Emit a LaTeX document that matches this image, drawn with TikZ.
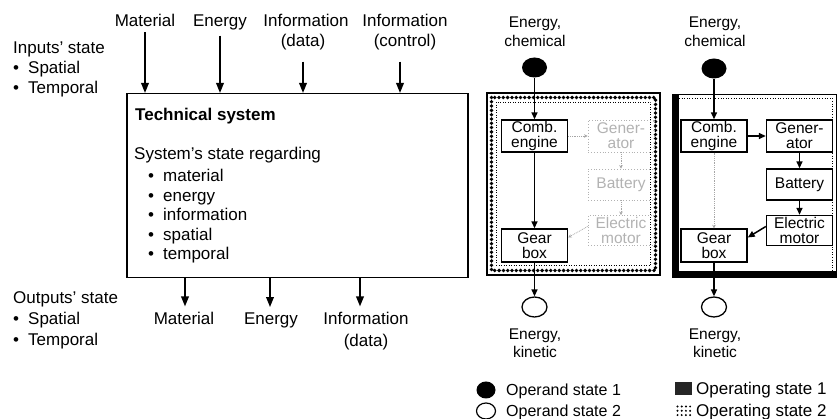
\documentclass[tikz,border=0pt]{standalone}
\usepackage{fontspec}
\setmainfont{Liberation Sans}
\usetikzlibrary{arrows.meta,shapes.geometric}
\newcommand{\ltf}{\fontsize{17}{20}\selectfont}
\newcommand{\rtf}{\fontsize{15.5}{18.5}\selectfont}
\newcommand{\bxf}{\fontsize{15.5}{15}\selectfont}
\newcommand{\lgf}{\fontsize{16}{19}\selectfont}
\newcommand{\lgg}{\fontsize{17}{19}\selectfont}
\newcommand{\bul}{\makebox[15pt][l]{\textbullet}}
\begin{document}
\begin{tikzpicture}[x=1pt,y=-1pt,
  lt/.style={font=\ltf, inner sep=0pt},
  rt/.style={font=\rtf, inner sep=0pt},
  lg/.style={font=\lgf, inner sep=0pt, anchor=base west},
  arrL/.style={line width=1.8pt, -{Triangle[width=7.5pt,length=10pt]}},
  arrR/.style={line width=1.5pt, -{Triangle[width=6pt,length=7pt]}},
  arrF/.style={line width=.8pt, densely dotted, black!35, -{Stealth[width=3.5pt,length=3.5pt]}},
  sb/.style={draw, line width=1.4pt, minimum width=66pt, minimum height=32pt, inner sep=0pt, align=center, font=\bxf, fill=white},
  fb/.style={draw=black!30, dotted, line width=.9pt, minimum width=66pt, minimum height=31pt, inner sep=0pt, align=center, font=\bxf, text=black!30},
  opd/.style={ellipse, line width=1.3pt, minimum width=25pt, minimum height=20pt, inner sep=0pt}
]
\useasboundingbox (0,0) rectangle (839,419);

% ---------------- left part ----------------
\node[draw, line width=1.5pt, anchor=north west, minimum width=341pt, minimum height=184pt, inner sep=0pt] (ts) at (126,93) {};

\node[lt, anchor=base] (inMat) at (145,27) {Material};
\node[lt, anchor=base] (inEn) at (220,27) {Energy};
\node[lt, anchor=base] (inInfo) at (306,27) {Information};
\node[lt, anchor=base] (inData) at (303,47) {(data)};
\node[lt, anchor=base] (inInfoB) at (405,27) {Information};
\node[lt, anchor=base] (inCtrl) at (405,47) {(control)};

\coordinate (cMat) at ([yshift=-5pt]inMat.south);
\coordinate (cEn) at ([yshift=-5pt]inEn.south);
\coordinate (cData) at ([yshift=-11pt]inData.south);
\coordinate (cCtrl) at ([xshift=-5pt,yshift=-11pt]inCtrl.south);
\draw[arrL] (cMat) -- (cMat |- ts.north);
\draw[arrL] (cEn) -- (cEn |- ts.north);
\draw[arrL] (cData) -- (cData |- ts.north);
\draw[arrL] (cCtrl) -- (cCtrl |- ts.north);

\node[lt, anchor=base west] (inSt) at (13,54) {Inputs' state};
\node[lt, anchor=base west] (inSp) at (13,74) {\bul Spatial};
\node[lt, anchor=base west] (inTe) at (13,94) {\bul Temporal};

\node[lt, anchor=base west] (tsT) at (135,121) {\bfseries Technical system};
\node[lt, anchor=base west] (tsS) at (134,160) {System's state regarding};
\node[lt, anchor=base west] (tsA) at (148,182) {\bul material};
\node[lt, anchor=base west] (tsB) at (148,201.5) {\bul energy};
\node[lt, anchor=base west] (tsC) at (148,221) {\bul information};
\node[lt, anchor=base west] (tsD) at (148,240.5) {\bul spatial};
\node[lt, anchor=base west] (tsE) at (148,260) {\bul temporal};

\node[lt, anchor=base west] (outSt) at (13,304) {Outputs' state};
\node[lt, anchor=base west] (outSp) at (13,325) {\bul Spatial};
\node[lt, anchor=base west] (outTe) at (13,346) {\bul Temporal};

\node[lt, anchor=base] (outMat) at (184,325) {Material};
\node[lt, anchor=base] (outEn) at (271,325) {Energy};
\node[lt, anchor=base] (outInfo) at (366,325) {Information};
\node[lt, anchor=base] (outData) at (366,347) {(data)};

\coordinate (oMat) at ([xshift=1pt,yshift=6pt]outMat.north);
\coordinate (oEn) at ([xshift=-1pt,yshift=6pt]outEn.north);
\coordinate (oInfo) at ([xshift=-6pt,yshift=6pt]outInfo.north);
\draw[arrL] (oMat |- ts.south) -- (oMat);
\draw[arrL] (oEn |- ts.south) -- (oEn);
\draw[arrL] (oInfo |- ts.south) -- (oInfo);

% ---------------- right part: frames ----------------
% left panel (operating state 2)
\draw[line width=2pt] (487,93) rectangle (660,275);
\draw[line width=3.8pt, line cap=round, dash pattern=on 0pt off 4.3pt] (491.5,97.5) rectangle (655.5,270.5);
\draw[line width=.5pt, dotted] (496.5,102.5) rectangle (650.5,265.5);
% right panel (operating state 1)
\draw[line width=1pt] (672,95) rectangle (836,278);
\fill (672,95) rectangle (678.5,278);
\fill (672,271) rectangle (836,278);
\draw[dotted, line width=.6pt] (679,98.5) -- (832.5,98.5) -- (832.5,271);

% ---------------- left panel content ----------------
\node[rt, anchor=base] (ecA1) at (535,28) {Energy,};
\node[rt, anchor=base] (ecB1) at (535,46.5) {chemical};
\node[opd, fill=black] (c1) at (534.5,67.5) {};
\node[sb] (ce1) at (534.5,136) {Comb.\\engine};
\node[sb, minimum height=33pt] (gb1) at (534.5,245.5) {Gear\\box};
\node[fb, minimum height=32pt] (gen1) at (621,136) {Gener-\\ator};
\node[fb] (bat1) at (621,184.5) {Battery};
\node[fb, minimum height=30pt] (em1) at (621,230.5) {Electric\\motor};
\node[opd, draw, fill=white] (k1) at (534.5,307) {};
\node[rt, anchor=base] (ekA1) at (535,340) {Energy,};
\node[rt, anchor=base] (ekB1) at (535,358) {kinetic};

\draw[arrR] (c1) -- (ce1);
\draw[arrR] (ce1) -- (gb1);
\draw[arrR] (gb1) -- (k1);
\draw[arrF] (ce1) -- (gen1);
\draw[arrF] (gen1) -- (bat1);
\draw[arrF] (bat1) -- (em1);
\draw[arrF] ([yshift=4pt]em1.west) -- ([yshift=8pt]gb1.east);

% ---------------- right panel content ----------------
\node[rt, anchor=base] (ecA2) at (715,28) {Energy,};
\node[rt, anchor=base] (ecB2) at (715,46.5) {chemical};
\node[opd, fill=black] (c2) at (714,68.5) {};
\node[sb] (ce2) at (714,136) {Comb.\\engine};
\node[sb, minimum height=33pt] (gb2) at (714,245.5) {Gear\\box};
\node[sb] (gen2) at (799.5,136) {Gener-\\ator};
\node[sb, minimum height=31pt] (bat2) at (799.5,184.5) {Battery};
\node[sb, minimum height=30pt] (em2) at (799.5,230.5) {Electric\\motor};
\node[opd, draw, fill=white] (k2) at (714,307) {};
\node[rt, anchor=base] (ekA2) at (715,340) {Energy,};
\node[rt, anchor=base] (ekB2) at (715,358) {kinetic};

\draw[arrR] (c2) -- (ce2);
\draw[arrF] (ce2) -- (gb2);
\draw[arrR] (gb2) -- (k2);
\draw[arrR] (ce2) -- (gen2);
\draw[arrR] (gen2) -- (bat2);
\draw[arrR] (bat2) -- (em2);
\draw[arrR] ([yshift=4pt]em2.west) -- ([yshift=8pt]gb2.east);

% ---------------- legend ----------------
\node[ellipse, fill=black, minimum width=19pt, minimum height=17pt, inner sep=0pt] (lgA) at (486,390) {};
\node[lg] (lgAt) at (506,396) {Operand state 1};
\node[ellipse, draw, line width=1.2pt, minimum width=19pt, minimum height=16pt, inner sep=0pt] (lgB) at (486,411) {};
\node[lg] (lgBt) at (506,417) {Operand state 2};
\node[fill=black!85, anchor=north west, minimum width=17pt, minimum height=13pt, inner sep=0pt] (lgC) at (675,382) {};
\node[lg, font=\lgg] (lgCt) at (696,395) {Operating state 1};
\node[anchor=north west, minimum width=17pt, minimum height=13pt, inner sep=0pt] (lgD) at (675,404) {};
\foreach \i in {0,...,3} \foreach \j in {0,...,2}
  \fill (677.5+\i*4.2, 406.5+\j*4.3) circle (1.1pt);
\node[lg, font=\lgg] (lgDt) at (696,417) {Operating state 2};
\end{tikzpicture}
\end{document}
